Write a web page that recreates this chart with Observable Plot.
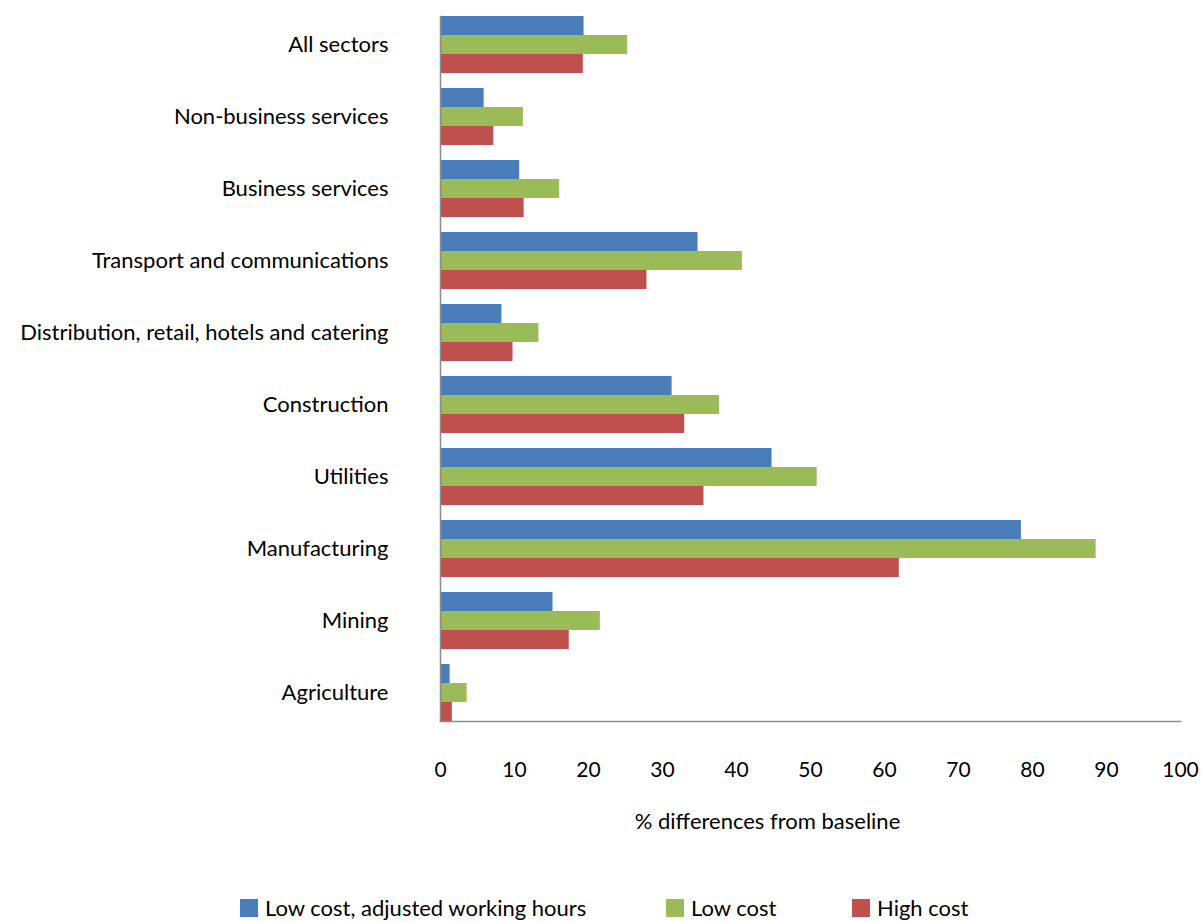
<!DOCTYPE html>
<html>
<head>
<meta charset="utf-8">
<script src="https://cdn.jsdelivr.net/npm/d3@7"></script>
<script src="https://cdn.jsdelivr.net/npm/@observablehq/plot@0.6"></script>
<style>
  body { margin: 0; background: #fff; font-family: Lato, sans-serif; }
  #wrap { position: relative; width: 1203px; height: 922px; }
  #legend { position: absolute; top: 894px; left: 0; width: 1203px; height: 26px; font-size: 22px; color: #000; }
  .item { position: absolute; display: flex; align-items: center; white-space: nowrap; }
  .sw { width: 18px; height: 18px; margin-right: 7px; }
</style>
</head>
<body>
<div id="wrap">
  <div id="chart"></div>
  <div id="legend"></div>
</div>
<script>
const sectors = ["All sectors", "Non-business services", "Business services", "Transport and communications",
  "Distribution, retail, hotels and catering", "Construction", "Utilities", "Manufacturing", "Mining", "Agriculture"];
const lowCostAdjusted = [19.4, 5.9, 10.7, 34.8, 8.3, 31.3, 44.8, 78.5, 15.2, 1.3];
const lowCost = [25.3, 11.2, 16.1, 40.8, 13.3, 37.7, 50.9, 88.6, 21.6, 3.6];
const highCost = [19.3, 7.2, 11.3, 27.9, 9.8, 33.0, 35.6, 62.0, 17.4, 1.6];
const seriesNames = ["Low cost, adjusted working hours", "Low cost", "High cost"];
const seriesColors = ["#4a7ebb", "#9bbb59", "#c0504d"];
const xTicks = [0, 10, 20, 30, 40, 50, 60, 70, 80, 90, 100];
const xLabel = "% differences from baseline";
const legendLeft = [240, 666, 852];

const seriesValues = [lowCostAdjusted, lowCost, highCost];
const data = sectors.flatMap((s, i) => seriesNames.map((n, j) => ({sector: s, series: n, value: seriesValues[j][i]})));

const chart = Plot.plot({
  width: 1203,
  height: 860,
  marginLeft: 440,
  marginRight: 23,
  marginTop: 8,
  marginBottom: 132,
  style: {fontFamily: "Lato, sans-serif", fontSize: "22px", color: "#000", background: "#fff"},
  x: {domain: [0, 100], axis: null},
  fy: {domain: sectors, paddingInner: 0.21, paddingOuter: 0.1, axis: "left", label: null, tickSize: 0, tickPadding: 52},
  y: {domain: seriesNames, padding: 0, axis: null},
  color: {domain: seriesNames, range: seriesColors},
  marks: [
    Plot.barX(data, {x: "value", y: "series", fy: "sector", fill: "series"}),
    Plot.frame({anchor: "left", facet: "super", stroke: "#8c8c8c", strokeWidth: 1.5}),
    Plot.frame({anchor: "bottom", facet: "super", stroke: "#8c8c8c", strokeWidth: 1.5}),
    Plot.axisX({ticks: xTicks, tickSize: 0, tickPadding: 41, fontSize: 21, label: null}),
    Plot.text([xLabel], {text: d => d, frameAnchor: "bottom", dy: 107, dx: -43, facet: "super", fontSize: 22, fill: "#000"})
  ]
});
document.getElementById("chart").appendChild(chart);

const legend = document.getElementById("legend");
seriesNames.forEach((n, j) => {
  const item = document.createElement("div");
  item.className = "item";
  item.style.left = legendLeft[j] + "px";
  const sw = document.createElement("div");
  sw.className = "sw";
  sw.style.background = seriesColors[j];
  const t = document.createElement("span");
  t.textContent = n;
  item.appendChild(sw);
  item.appendChild(t);
  legend.appendChild(item);
});
</script>
</body>
</html>
